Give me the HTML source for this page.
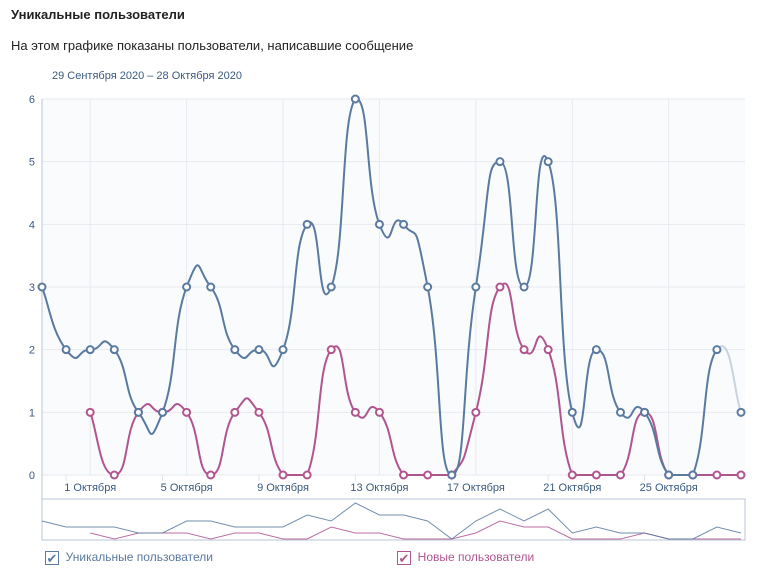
<!DOCTYPE html>
<html><head><meta charset="utf-8"><style>
body{margin:0;width:768px;height:585px;background:#fff;font-family:"Liberation Sans","DejaVu Sans",sans-serif;overflow:hidden;position:relative}
.t{position:absolute;white-space:nowrap}
.cb{display:inline-block;width:14px;height:14px;border:1px solid;vertical-align:middle;text-align:center;line-height:14px;font-size:13px;box-sizing:border-box}
</style></head><body>
<div class="t" style="left:11px;top:7px;font-size:13px;font-weight:bold;color:#222">Уникальные пользователи</div>
<div class="t" style="left:11px;top:38px;font-size:13px;color:#222">На этом графике показаны пользователи, написавшие сообщение</div>
<div class="t" style="left:52px;top:70px;font-size:11px;color:#3b5a80">29 Сентября 2020 – 28 Октября 2020</div>
<svg id="c" width="768" height="585" style="position:absolute;left:0;top:0"></svg>
<script>
const days=["29 Сен","30 Сен","1 Окт","2 Окт","3 Окт","4 Окт","5 Окт","6 Окт","7 Окт","8 Окт","9 Окт","10 Окт","11 Окт","12 Окт","13 Окт","14 Окт","15 Окт","16 Окт","17 Окт","18 Окт","19 Окт","20 Окт","21 Окт","22 Окт","23 Окт","24 Окт","25 Окт","26 Окт","27 Окт","28 Окт"];
const uniqueUsers=[3,2,2,2,1,1,3,3,2,2,2,4,3,6,4,4,3,0,3,5,3,5,1,2,1,1,0,0,2,1];
const newUsers=[null,null,1,0,1,1,1,0,1,1,0,0,2,1,1,0,0,0,1,3,2,2,0,0,0,1,0,0,0,0];
const yTicks=[0,1,2,3,4,5,6];
const xLabels=[[2,"1 Октября"],[6,"5 Октября"],[10,"9 Октября"],[14,"13 Октября"],[18,"17 Октября"],[22,"21 Октября"],[26,"25 Октября"]];
const svg=document.getElementById('c');const NS="http://www.w3.org/2000/svg";
function el(t,a,p){const e=document.createElementNS(NS,t);for(const k in a)e.setAttribute(k,a[k]);(p||svg).appendChild(e);return e;}
const X0=42,X1=741,Y0=475,Y1=99;
const x=i=>X0+(X1-X0)*i/(days.length-1);
const y=v=>Y0-(Y0-Y1)*v/6;
const ny=v=>539-36*v/6;
let r=el('rect',{x:42,y:99,width:703,height:376,fill:'#fafbfc'});

yTicks.forEach(v=>{let l=el('line',{x1:42,x2:745,y1:y(v),y2:y(v),stroke:'#e7eaf0'});

let t=el('text',{x:35,y:y(v)+4,'text-anchor':'end','font-size':11,fill:'#3b5a80'});t.textContent=v;
});
xLabels.forEach(([i,s])=>{let l=el('line',{x1:x(i),x2:x(i),y1:99,y2:475,stroke:'#e7eaf0'});

let tk=el('line',{x1:x(i-1),x2:x(i-1),y1:475,y2:481,stroke:'#dfe3ea'});

let t=el('text',{x:x(i),y:491,'text-anchor':'middle','font-size':11,fill:'#3b5a80'});t.textContent=s;
});
let ax=el('line',{x1:42,x2:42,y1:99,y2:540,stroke:'#b9c6d6'});
let nb=el('rect',{x:42,y:499,width:703,height:41,fill:'none',stroke:'#b9c6d6'});
const cl=v=>Math.min(Y0,Math.max(Y1-4,v));
function seg(pts,a,b){let d=`M${pts[a][0]},${pts[a][1]}`;const s=0.3;for(let k=a;k<b;k++){const p0=pts[Math.max(0,k-1)],p1=pts[k],p2=pts[k+1],p3=pts[Math.min(pts.length-1,k+2)];
d+=` C${p1[0]+(p2[0]-p0[0])*s},${cl(p1[1]+(p2[1]-p0[1])*s)} ${p2[0]-(p3[0]-p1[0])*s},${cl(p2[1]-(p3[1]-p1[1])*s)} ${p2[0]},${p2[1]}`;}return d;}
function series(vals,color,name,last){const idx=[];vals.forEach((v,i)=>{if(v!==null)idx.push(i)});
const pts=idx.map(i=>[x(i),y(vals[i])]);const n=pts.length-1;
let p=el('path',{d:seg(pts,0,last?n-1:n),fill:'none',stroke:color,'stroke-width':2});
if(last){let q=el('path',{d:seg(pts,n-1,n),fill:'none',stroke:'#c9d3e0','stroke-width':2});
}
idx.forEach(i=>{let cc=el('circle',{cx:x(i),cy:y(vals[i]),r:3.5,fill:'#fff',stroke:color,'stroke-width':2});});
let nl=el('polyline',{points:idx.map(i=>x(i)+','+ny(vals[i])).join(' '),fill:'none',stroke:color,'stroke-width':1,opacity:0.85});
}
series(newUsers,'#b05590','new-users',false);
series(uniqueUsers,'#5a7aa0','unique-users',true);
</script>
<div style="position:absolute;left:45px;top:549px;font-size:12px;line-height:16px;color:#5a7aa0">
<span class="cb" style="border-color:#5a7aa0;color:#5a7aa0">✔</span>&nbsp;&nbsp;Уникальные пользователи</div>
<div style="position:absolute;left:397px;top:549px;font-size:12px;line-height:16px;color:#b05590">
<span class="cb" style="border-color:#b05590;color:#b05590">✔</span>&nbsp;&nbsp;Новые пользователи</div>
</body></html>
